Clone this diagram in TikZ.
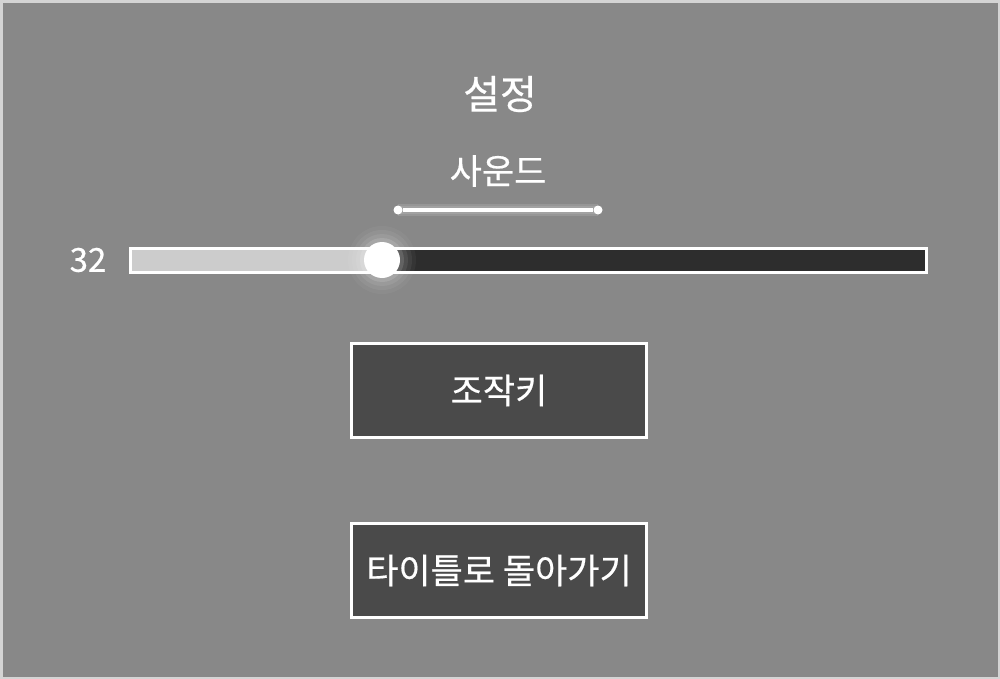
\documentclass[tikz,border=0pt]{standalone}
\usepackage{fontspec}
\setmainfont{Noto Sans CJK KR}[UprightFeatures={FakeBold=0.5}]
\definecolor{bgray}{HTML}{888888}
\definecolor{rim}{HTML}{D4D4D4}
\definecolor{btnfill}{HTML}{4A4A4A}
\definecolor{lite}{HTML}{CCCCCC}
\definecolor{dark}{HTML}{2D2D2D}
\tikzset{
    every node/.style={text=white, inner sep=0pt},
    txt/.style={font=\fontsize{35}{40}\selectfont},
    big/.style={font=\fontsize{40}{46}\selectfont},
    num/.style={font=\fontsize{33}{38}\selectfont},
    btn/.style={draw=white, line width=3pt, fill=btnfill, minimum width=295pt, minimum height=94pt, txt},
    track/.style={draw=white, line width=3pt, minimum width=796pt, minimum height=24pt},
    dot/.style={circle, fill=white, minimum size=9pt},
    knob/.style={circle, fill=white, minimum size=36pt},
    glowline/.style={white, line width=#1, opacity=0.12}
}

\begin{document}
\begin{tikzpicture}[x=1pt, y=-1pt]

\fill[rim] (0,0) rectangle (1000,679);
\fill[bgray] (3,3) rectangle (998,677);

\node[big] at (500,94) (title) {설정};
\node[txt] at (498,171) (snd) {사운드};

\node[dot] at (398,210) (s0) {};
\node[dot] at (598,210) (s1) {};

\draw[glowline=12pt] (s0.center) -- (s1.center);
\draw[glowline=8pt] (s0.center) -- (s1.center);
\draw[white, line width=3.5pt] (s0) -- (s1);

\node[num] at (88,260) (val) {32};

\fill[dark] (129,247) rectangle (927,273);
\fill[lite] (129,247) rectangle (382,273);
\node[track] at (528,260) (bar) {};

\foreach \r/\o in {34/0.04, 30/0.06, 26/0.08, 22/0.12}
    \fill[white, opacity=\o] (382,260) circle (\r pt);
\node[knob] at (382,260) (kn) {};

\node[btn] at (499,390.5) (b1) {조작키};
\node[btn] at (499,570.5) (b2) {타이틀로 돌아가기};
\end{tikzpicture}
\end{document}
